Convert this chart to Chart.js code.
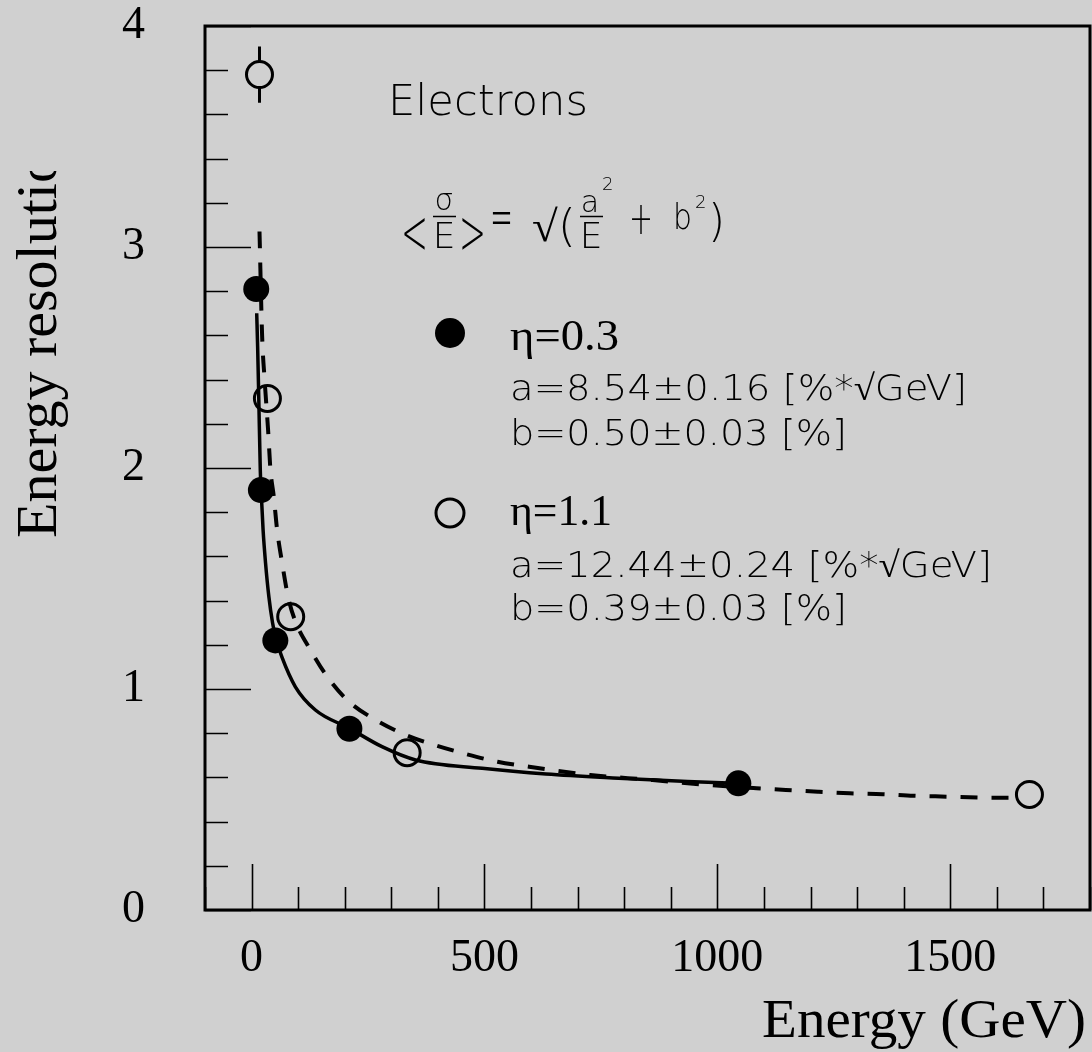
<!DOCTYPE html>
<html>
<head>
<meta charset="utf-8">
<script src="https://cdn.jsdelivr.net/npm/chart.js@4.4.0/dist/chart.umd.min.js"></script>
<style>
  html, body { margin: 0; padding: 0; background: #d0d0d0; }
</style>
</head>
<body>
<canvas id="resChart" width="1092" height="1052"></canvas>
<script>
// measured points, eta = 0.3 (filled markers)
const eta03Energy = [10, 20, 51, 210, 1045];
const eta03Res = [2.81, 1.90, 1.22, 0.82, 0.573];

// measured points, eta = 1.1 (open markers)
const eta11Energy = [17, 34, 84, 334, 1670];
const eta11Res = [3.78, 2.315, 1.327, 0.712, 0.523];
const eta11Err = [0.127, 0, 0, 0, 0];

// fit curves
const fit03Energy = [11, 13, 15.5, 18.7, 20.4, 24.7, 30, 37, 45, 52, 65, 94, 137, 210, 280, 352, 495, 632, 788, 936, 1045];
const fit03Res = [2.70, 2.55, 2.31, 1.99, 1.90, 1.72, 1.57, 1.42, 1.30, 1.23, 1.145, 1.01, 0.905, 0.822, 0.739, 0.679, 0.641, 0.615, 0.596, 0.581, 0.573];

const fit11Energy = [17, 22.6, 28, 35.5, 40.6, 47.7, 54.8, 65.6, 78.5, 93, 126.7, 162.4, 209, 266.5, 331, 392, 460, 528, 596, 727, 861, 936, 1084, 1147, 1218, 1284, 1355, 1421, 1492, 1562, 1640];
const fit11Res = [3.07, 2.60, 2.40, 2.17, 1.99, 1.87, 1.72, 1.57, 1.416, 1.312, 1.176, 1.056, 0.943, 0.860, 0.792, 0.747, 0.706, 0.671, 0.648, 0.611, 0.588, 0.573, 0.551, 0.543, 0.535, 0.528, 0.524, 0.517, 0.513, 0.509, 0.508];

const xTickLabels = [0, 500, 1000, 1500];
const yTickLabels = [0, 1, 2, 3, 4];

const toXY = (xs, ys) => xs.map((v, i) => ({ x: v, y: ys[i] }));

const BG = '#d0d0d0';
const SANS = "'DejaVu Sans'";
const SERIF = "'Liberation Serif', 'Times New Roman', serif";
const thin = size => '200 ' + size + 'px ' + SANS;

function text(ctx, str, x, y, font, width, align) {
    ctx.save();
    ctx.font = font;
    ctx.textBaseline = 'alphabetic';
    ctx.textAlign = 'left';
    const w = ctx.measureText(str).width;
    const sx = width ? width / w : 1;
    let x0 = x;
    if (align === 'center') x0 = x - w * sx / 2;
    if (align === 'right') x0 = x - w * sx;
    ctx.translate(x0, y);
    ctx.scale(sx, 1);
    ctx.fillText(str, 0, 0);
    ctx.restore();
}

// no extra padding from the scales: the frame is placed by layout.padding only
const noPad = s => { s.paddingTop = 0; s.paddingBottom = 0; s.paddingLeft = 0; s.paddingRight = 0; };

const decor = {
    id: 'decor',
    beforeDraw(chart) {
        const ctx = chart.ctx;
        ctx.save();
        ctx.fillStyle = BG;
        ctx.fillRect(0, 0, chart.width, chart.height);
        ctx.restore();
    },
    afterDatasetsDraw(chart) {
        const { ctx, chartArea: a, scales: { x, y } } = chart;
        ctx.save();
        ctx.strokeStyle = '#000';
        ctx.fillStyle = '#000';

        // tick marks, drawn inside the frame
        ctx.lineWidth = 1.6;
        ctx.beginPath();
        for (let v = -100; v <= 1800; v += 100) {
            const px = Math.round(x.getPixelForValue(v)) + 0.5;
            const len = v % 500 === 0 ? 46 : 23;
            ctx.moveTo(px, a.bottom);
            ctx.lineTo(px, a.bottom - len);
        }
        for (let i = 0; i <= 20; i++) {
            const py = Math.round(y.getPixelForValue(i * 0.2)) + 0.5;
            const len = i % 5 === 0 ? 46 : 23;
            ctx.moveTo(a.left, py);
            ctx.lineTo(a.left + len, py);
        }
        ctx.stroke();

        // frame
        ctx.lineWidth = 3;
        ctx.strokeRect(a.left, a.top, a.right - a.left, a.bottom - a.top);

        // error bars on open markers (outside the marker only)
        const r = 13;
        eta11Energy.forEach((e, i) => {
            if (!eta11Err[i]) return;
            const px = x.getPixelForValue(e);
            const pc = y.getPixelForValue(eta11Res[i]);
            const pt = y.getPixelForValue(eta11Res[i] + eta11Err[i]);
            const pb = y.getPixelForValue(eta11Res[i] - eta11Err[i]);
            ctx.beginPath();
            ctx.moveTo(px, pt); ctx.lineTo(px, pc - r);
            ctx.moveTo(px, pc + r); ctx.lineTo(px, pb);
            ctx.stroke();
        });

        // annotation
        text(ctx, 'Electrons', 388, 115, thin(42), 200);

        // formula  <sigma/E> = sqrt(a^2/E + b^2)
        text(ctx, '<', 401, 254, thin(64), 27);
        text(ctx, 'σ', 444, 210, thin(30), null, 'center');
        text(ctx, 'E', 444, 248, thin(36), null, 'center');
        text(ctx, '>', 459, 254, thin(64), 27);
        text(ctx, '=', 490, 237, thin(60), 23);
        text(ctx, '√(', 532, 241, thin(44), 44);
        text(ctx, 'a', 590, 212, thin(30), null, 'center');
        text(ctx, '2', 602, 190, thin(18));
        text(ctx, 'E', 591, 248, thin(36), null, 'center');
        text(ctx, '+', 629, 234, thin(46), 24);
        text(ctx, 'b', 673, 229, thin(36), 19);
        text(ctx, '2', 695, 208, thin(18));
        text(ctx, ')', 708, 236, thin(44));
        ctx.lineWidth = 1.5;
        ctx.beginPath();
        ctx.moveTo(433, 216.5); ctx.lineTo(456, 216.5);
        ctx.moveTo(580, 216.5); ctx.lineTo(603, 216.5);
        ctx.stroke();

        // legend
        ctx.beginPath();
        ctx.arc(450, 333, 15, 0, Math.PI * 2);
        ctx.fill();
        text(ctx, 'η=0.3', 510, 350, '44px ' + SERIF, 109);
        text(ctx, 'a=8.54±0.16 [%*√GeV]', 510, 400, thin(36), 457);
        text(ctx, 'b=0.50±0.03 [%]', 510, 445, thin(36), 337);

        ctx.lineWidth = 3;
        ctx.beginPath();
        ctx.arc(450, 513, 14, 0, Math.PI * 2);
        ctx.stroke();
        text(ctx, 'η=1.1', 510, 525, '44px ' + SERIF, 102);
        text(ctx, 'a=12.44±0.24 [%*√GeV]', 510, 577, thin(36), 482);
        text(ctx, 'b=0.39±0.03 [%]', 510, 620, thin(36), 337);

        // axis titles
        text(ctx, 'Energy (GeV)', 1086, 1037, '55px ' + SERIF, 324, 'right');

        ctx.save();
        ctx.beginPath();
        ctx.rect(0, 171, 120, 500);
        ctx.clip();
        ctx.translate(56, 538);
        ctx.rotate(-Math.PI / 2);
        ctx.font = '58px ' + SERIF;
        ctx.textAlign = 'left';
        ctx.textBaseline = 'alphabetic';
        ctx.fillText('Energy resolution', 0, 0);
        ctx.restore();

        ctx.restore();
    }
};

new Chart(document.getElementById('resChart'), {
    type: 'scatter',
    data: {
        datasets: [
            {
                label: 'η=0.3',
                data: toXY(eta03Energy, eta03Res),
                pointStyle: 'circle',
                pointRadius: 13,
                backgroundColor: '#000',
                borderColor: '#000',
                borderWidth: 0,
                order: 0
            },
            {
                label: 'fit η=0.3',
                type: 'line',
                data: toXY(fit03Energy, fit03Res),
                borderColor: '#000',
                borderWidth: 3.5,
                pointRadius: 0,
                fill: false,
                cubicInterpolationMode: 'monotone',
                order: 1
            },
            {
                label: 'fit η=1.1',
                type: 'line',
                data: toXY(fit11Energy, fit11Res),
                borderColor: '#000',
                borderWidth: 4,
                borderDash: [17, 14],
                pointRadius: 0,
                fill: false,
                cubicInterpolationMode: 'monotone',
                order: 2
            },
            {
                label: 'η=1.1',
                data: toXY(eta11Energy, eta11Res),
                pointStyle: 'circle',
                pointRadius: 13,
                backgroundColor: 'rgba(0,0,0,0)',
                borderColor: '#000',
                borderWidth: 3,
                order: 3
            }
        ]
    },
    options: {
        responsive: false,
        animation: false,
        layout: { autoPadding: false, padding: { top: 26, right: 2, left: 0, bottom: 0 } },
        plugins: { legend: { display: false }, tooltip: { enabled: false } },
        scales: {
            x: {
                type: 'linear',
                min: -100,
                max: 1800,
                grid: { display: false },
                border: { display: false },
                afterFit: s => { s.height = 142; noPad(s); },
                afterBuildTicks: s => { s.ticks = xTickLabels.map(v => ({ value: v })); },
                ticks: {
                    color: '#000',
                    padding: 18,
                    maxRotation: 0,
                    callback: v => String(v),
                    font: { family: SERIF, size: 46, lineHeight: 1 }
                }
            },
            y: {
                type: 'linear',
                min: 0,
                max: 4,
                grid: { display: false },
                border: { display: false },
                afterFit: s => { s.width = 205; noPad(s); },
                afterBuildTicks: s => { s.ticks = yTickLabels.map(v => ({ value: v })); },
                ticks: {
                    color: '#000',
                    padding: 52,
                    callback: v => String(v),
                    font: { family: SERIF, size: 46, lineHeight: 1 }
                }
            }
        }
    },
    plugins: [decor]
});
</script>
</body>
</html>
